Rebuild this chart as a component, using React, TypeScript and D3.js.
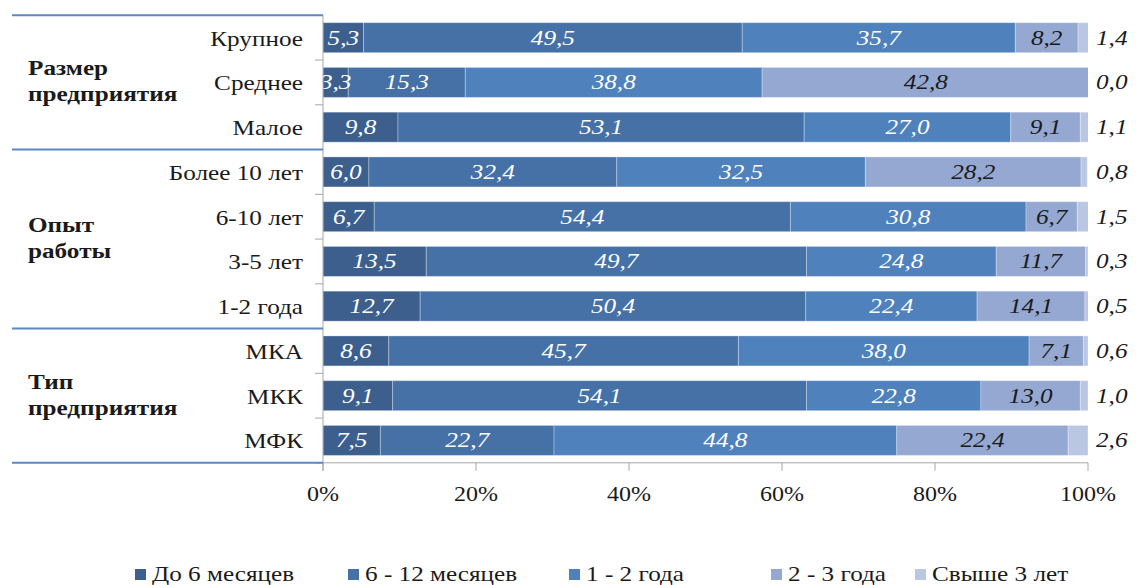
import React from "react";
import * as d3 from "d3";

const categories = ["Крупное", "Среднее", "Малое", "Более 10 лет", "6-10 лет", "3-5 лет", "1-2 года", "МКА", "МКК", "МФК"];
const seriesNames = ["До 6 месяцев", "6 - 12 месяцев", "1 - 2 года", "2 - 3 года", "Свыше 3 лет"];
const upTo6m = [5.3, 3.3, 9.8, 6.0, 6.7, 13.5, 12.7, 8.6, 9.1, 7.5];
const m6to12 = [49.5, 15.3, 53.1, 32.4, 54.4, 49.7, 50.4, 45.7, 54.1, 22.7];
const y1to2 = [35.7, 38.8, 27.0, 32.5, 30.8, 24.8, 22.4, 38.0, 22.8, 44.8];
const y2to3 = [8.2, 42.8, 9.1, 28.2, 6.7, 11.7, 14.1, 7.1, 13.0, 22.4];
const over3 = [1.4, 0.0, 1.1, 0.8, 1.5, 0.3, 0.5, 0.6, 1.0, 2.6];
const groups = [
  { lines: ["Размер", "предприятия"], from: 0, to: 3 },
  { lines: ["Опыт", "работы"], from: 3, to: 7 },
  { lines: ["Тип", "предприятия"], from: 7, to: 10 },
];
const xTicks = [0, 20, 40, 60, 80, 100];

const colors = ["#3c5f8e", "#4571a6", "#4f81bd", "#94a8d1", "#b9c7e3"];
const labelColors = ["#ffffff", "#ffffff", "#ffffff", "#1a1a1a", "#1a1a1a"];

const W = 1141, H = 585;
const X0 = 323, X1 = 1088, Y0 = 15.3, Y1 = 462.8;
const SX = 1.2;
const FONT = "Liberation Serif, Times New Roman, serif";

function T({ x, y, anchor = "start", size = 21, weight = "normal", italic = false, fill = "#1a1a1a", children }: any) {
  return (
    <text
      transform={`translate(${x},${y}) scale(${SX},1)`}
      textAnchor={anchor}
      fill={fill}
      style={{ fontFamily: FONT, fontSize: size + "px", fontWeight: weight, fontStyle: italic ? "italic" : "normal" }}
    >
      {children}
    </text>
  );
}

export default function App() {
  const series = [upTo6m, m6to12, y1to2, y2to3, over3];
  const x = d3.scaleLinear().domain([0, 100]).range([X0, X1]);
  const y = d3.scaleBand<string>().domain(categories).range([Y0, Y1]).paddingInner(0.33).paddingOuter(0.165);
  const step = y.step();
  const bw = y.bandwidth();

  const rows = categories.map((c, i) => {
    let acc = 0;
    const segs = series.map((s, k) => {
      const start = acc;
      acc += s[i];
      return { k, start, end: acc, v: s[i] };
    });
    return { c, segs };
  });

  const fmt = (v: number) => v.toFixed(1).replace(".", ",");
  const legendX = [135, 348, 569, 771, 915];

  return (
    <svg width={W} height={H} style={{ position: "absolute", left: 0, top: 0, background: "#fff" }}>
      <defs>
        <clipPath id="plot">
          <rect x={X0} y={Y0 - 5} width={X1 - X0} height={Y1 - Y0 + 10} />
        </clipPath>
      </defs>
      <rect width={W} height={H} fill="#fff" />
      {/* bars */}
      <g clipPath="url(#plot)">
        {rows.map((r) =>
          r.segs.map((s) => (
            <rect
              key={r.c + s.k}
              x={x(s.start)}
              y={y(r.c)!}
              width={Math.max(0, x(s.end) - x(s.start))}
              height={bw}
              fill={colors[s.k]}
              stroke="rgba(255,255,255,0.3)"
              strokeWidth={1}
            />
          ))
        )}
      </g>
      {/* value labels inside */}
      <g clipPath="url(#plot)">
        {rows.map((r) =>
          r.segs
            .filter((s) => s.k < 4)
            .map((s) => (
              <T key={"l" + r.c + s.k} x={x((s.start + s.end) / 2)} y={y(r.c)! + bw / 2 + 7} anchor="middle" italic fill={labelColors[s.k]}>
                {fmt(s.v)}
              </T>
            ))
        )}
      </g>
      {/* value labels outside */}
      {rows.map((r) => {
        const s = r.segs[4];
        return (
          <T key={"o" + r.c} x={x(100) + 8} y={y(r.c)! + bw / 2 + 7} italic fill={labelColors[4]}>
            {fmt(s.v)}
          </T>
        );
      })}
      {/* axes */}
      <line x1={X0} x2={X0} y1={Y0} y2={Y1 + 8} stroke="#a6a6a6" strokeWidth={1} />
      <line x1={X0} x2={X1} y1={Y1} y2={Y1} stroke="#a6a6a6" strokeWidth={1} />
      {d3.range(categories.length + 1).map((k) => (
        <line key={"yt" + k} x1={X0 - 8} x2={X0} y1={Y0 + k * step} y2={Y0 + k * step} stroke="#a6a6a6" strokeWidth={1} />
      ))}
      {xTicks.map((t) => (
        <g key={"xt" + t}>
          <line x1={x(t)} x2={x(t)} y1={Y1} y2={Y1 + 8} stroke="#a6a6a6" strokeWidth={1} />
          <T x={x(t)} y={501} anchor="middle" size={20}>
            {t + "%"}
          </T>
        </g>
      ))}
      {/* category labels */}
      {categories.map((c) => (
        <T key={"c" + c} x={303} y={y(c)! + bw / 2 + 8} anchor="end">
          {c}
        </T>
      ))}
      {/* group separators and labels */}
      {[0, 3, 7, 10].map((k) => (
        <line key={"g" + k} x1={12} x2={X0} y1={Y0 + k * step} y2={Y0 + k * step} stroke="#5b89c4" strokeWidth={2} />
      ))}
      {groups.map((g) => {
        const mid = Y0 + ((g.from + g.to) / 2) * step;
        return (
          <g key={g.lines.join("")}>
            <T x={28} y={mid - 7} weight="bold">{g.lines[0]}</T>
            <T x={28} y={mid + 19} weight="bold">{g.lines[1]}</T>
          </g>
        );
      })}
      {/* legend */}
      {seriesNames.map((n, k) => (
        <g key={"lg" + n}>
          <rect x={legendX[k]} y={569} width={11} height={11} fill={colors[k]} />
          <T x={legendX[k] + 17} y={581} size={21}>{n}</T>
        </g>
      ))}
    </svg>
  );
}
